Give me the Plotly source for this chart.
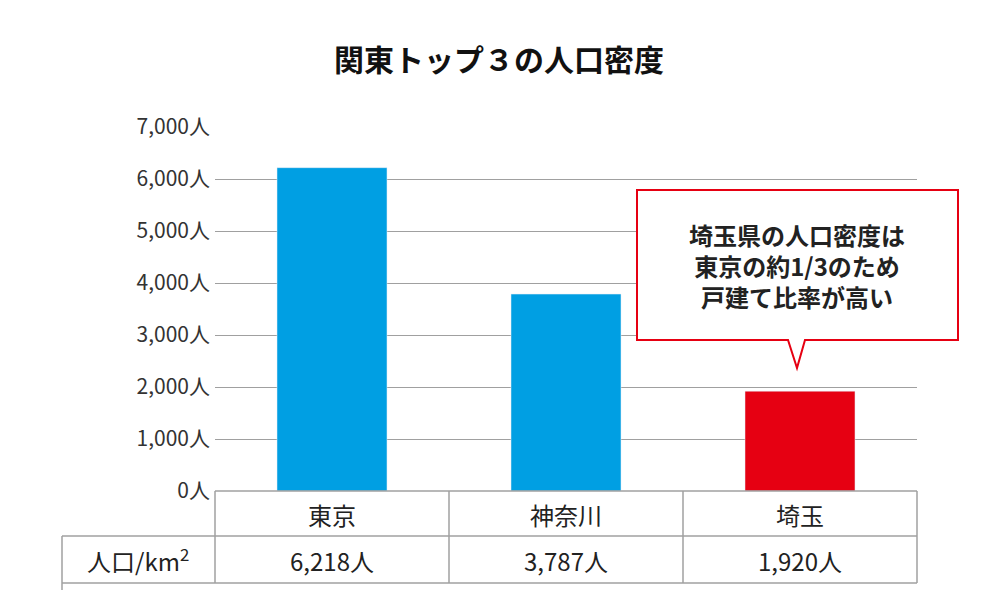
import plotly.graph_objects as go

categories = ["東京", "神奈川", "埼玉"]
values = [6218, 3787, 1920]
colors = ["#009fe3", "#009fe3", "#e60012"]
value_labels = ["6,218人", "3,787人", "1,920人"]
tick_vals = [0, 1000, 2000, 3000, 4000, 5000, 6000, 7000]
tick_text = ["0人", "1,000人", "2,000人", "3,000人", "4,000人", "5,000人", "6,000人", "7,000人"]

F = "Noto Sans CJK JP"
OFF = 8  # page body margin
W, H = 999 - OFF, 609 - OFF
L, R, T, B = 215, 917, 127, 491  # reference pixel coords of plot area
def px(x): return (x - L) / (R - L)
def py(y): return (B - y) / (B - T)

fig = go.Figure(go.Bar(x=categories, y=values, marker_color=colors, width=0.47))

shapes = []
gc = "#a0a0a0"
for yy in [491, 536, 583]:
    x0 = 215 if yy == 491 else 62
    shapes.append(dict(type="line", xref="paper", yref="paper", x0=px(x0), x1=px(917), y0=py(yy), y1=py(yy), line=dict(color=gc, width=1.5)))
for xx in [215, 449, 683, 917]:
    shapes.append(dict(type="line", xref="paper", yref="paper", x0=px(xx), x1=px(xx), y0=py(491), y1=py(583), line=dict(color=gc, width=1.5)))
shapes.append(dict(type="line", xref="paper", yref="paper", x0=px(62), x1=px(62), y0=py(536), y1=py(590), line=dict(color=gc, width=1.5)))
pts = [(637, 190), (958, 190), (958, 340), (805, 340), (797, 368), (788, 340), (637, 340)]
path = "M " + " L ".join(f"{px(a)},{py(b)}" for a, b in pts) + " Z"
shapes.append(dict(type="path", xref="paper", yref="paper", path=path, fillcolor="white", line=dict(color="#e60012", width=2)))

def A(x, y, text, size, **kw):
    return dict(x=px(x), y=py(y), xref="paper", yref="paper", text=text, showarrow=False,
                xanchor="center", yanchor="middle", font=dict(family=F, size=size, color="#222"), **kw)

ann = []
for i, (c, v) in enumerate(zip(categories, value_labels)):
    cx = 332 + 234 * i
    ann.append(A(cx, 514, c, 24))
    ann.append(A(cx, 560, v, 24))
ann.append(A(138, 560, "人口/km<sup>2</sup>", 24))
ann.append(A(797, 265, "<b>埼玉県の人口密度は<br>東京の約1/3のため<br>戸建て比率が高い</b>", 24, align="center"))

fig.update_layout(
    width=W, height=H, margin=dict(l=L - OFF, r=999 - R, t=T - OFF, b=609 - B),
    plot_bgcolor="white", paper_bgcolor="white",
    title=dict(text="<b>関東トップ３の人口密度</b>", x=(499 - OFF) / W, xanchor="center",
               y=1 - (60 - OFF) / H, yanchor="middle", font=dict(family=F, size=30, color="#111")),
    xaxis=dict(showticklabels=False, showgrid=False, showline=False),
    yaxis=dict(range=[0, 7000], tickvals=tick_vals, ticktext=tick_text, showgrid=True, gridcolor="#a0a0a0", gridwidth=1.2,
               zeroline=False, showline=False, tickfont=dict(family=F, size=21, color="#333"), ticklabelstandoff=4),
    shapes=shapes, annotations=ann, showlegend=False,
)
fig.write_html("out.html")
